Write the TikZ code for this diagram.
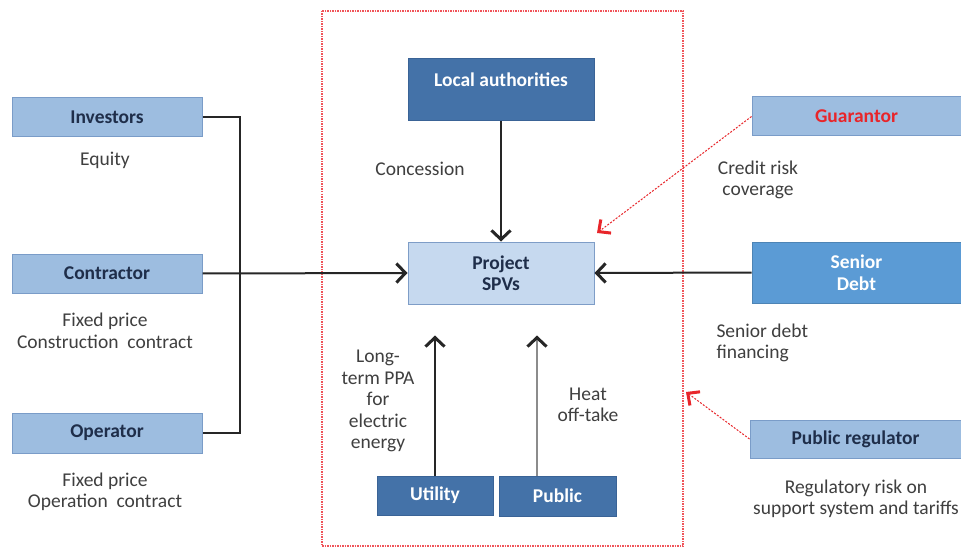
\documentclass[tikz,border=0pt]{standalone}
\usepackage{fontspec}
\setmainfont{Carlito}
\usetikzlibrary{arrows.meta,calc}
\definecolor{paleblue}{HTML}{C6D9EF}
\definecolor{paleedge}{HTML}{7E9DC7}
\definecolor{midblue}{HTML}{9DBDE0}
\definecolor{midedge}{HTML}{7A9CC8}
\definecolor{deepblue}{HTML}{4472A8}
\definecolor{deepedge}{HTML}{3A6396}
\definecolor{brightblue}{HTML}{5B9BD5}
\definecolor{navytext}{HTML}{1F2E4A}
\definecolor{labelgray}{HTML}{3F3F3F}
\definecolor{riskred}{HTML}{E8252A}
\definecolor{framered}{HTML}{F0545A}
\tikzset{
  basebox/.style={rectangle, inner sep=0pt, align=center, font=\fontsize{19.5}{21.5}\selectfont\bfseries},
  lightbox/.style={basebox, fill=midblue, draw=midedge, line width=1pt, text=navytext},
  palebox/.style={basebox, fill=paleblue, draw=paleedge, line width=1pt, text=navytext},
  darkbox/.style={basebox, fill=deepblue, draw=deepedge, line width=1pt, text=white},
  brightbox/.style={basebox, fill=brightblue, draw=brightblue!85!black, line width=1pt, text=white},
  note/.style={align=center, text=labelgray, font=\fontsize{19.5}{21.5}\selectfont},
  flow/.style={draw=black!85, line width=2pt, -{Straight Barb[length=9pt,width=19pt,line width=3pt]}},
  bus/.style={draw=black!85, line width=2pt},
  riskflow/.style={draw=riskred, line width=1pt, dash pattern=on 2pt off 1.5pt,
    -{Straight Barb[length=9pt,width=17pt,line width=3pt,color=riskred]}},
  scopeframe/.style={draw=framered, line width=1.2pt, dash pattern=on 1.5pt off 1pt}
}
\begin{document}
\begin{tikzpicture}[x=1pt,y=-1pt]
\useasboundingbox (0,0) rectangle (961,548);
\fill[white] (0,0) rectangle (961,548);

% project boundary
\draw[scopeframe] (322,11) rectangle (683,546);

% left-hand parties
\node[lightbox, minimum width=190pt, minimum height=39pt] (inv) at (107,117) {Investors};
\node[lightbox, minimum width=190pt, minimum height=39pt] (con) at (107,273.5) {Contractor};
\node[lightbox, minimum width=190pt, minimum height=40pt] (op) at (107,433) {Operator};

% centre
\node[darkbox, minimum width=186pt, minimum height=62pt] (loc) at (501,90) {Local authorities\\[0pt]~};
\node[palebox, minimum width=186pt, minimum height=62pt] (spv) at (501,273) {Project\\SPVs};
\node[darkbox, minimum width=116pt, minimum height=39pt] (util) at (435,495.5) {Utility};
\node[darkbox, minimum width=117pt, minimum height=40pt] (pub) at (557.5,496) {Public};

% right-hand parties
\node[lightbox, minimum width=209pt, minimum height=39pt, text=riskred] (gua) at (856.5,116.5) {Guarantor};
\node[brightbox, minimum width=209pt, minimum height=61pt] (sen) at (856.5,272.5) {Senior\\Debt};
\node[lightbox, minimum width=211pt, minimum height=38pt] (reg) at (855.5,439) {Public regulator};

% descriptions
\node[note] (equity) at (105,160) {Equity};
\node[note] (conlbl) at (105,331) {Fixed price\\Construction\ \ contract};
\node[note] (oplbl) at (105,492) {Fixed price\\Operation\ \ contract};
\node[note] (concl) at (420,169) {Concession};
\node[note] (ppa) at (378,401) {Long-\\term PPA\\for\\electric\\energy};
\node[note] (heat) at (588,405) {Heat\\off-take};
\node[note] (credit) at (758,180) {Credit risk\\coverage};
\node[note, align=left, anchor=west] (senlbl) at (713,343) {Senior debt\\financing};
\node[note] (reglbl) at (856,499) {Regulatory risk on\\support system and tariffs};

% connectors
\coordinate (busx) at (240,0);
\draw[bus] (inv.east) -- (inv.east -| busx) -- (op.east -| busx) -- (op.east);
\draw[flow] (con.east) -- (spv.west);
\draw[flow] (loc.south) -- (spv.north);
\draw[flow] (sen.west) -- (spv.east);
\draw[flow, shorten >=31pt] (util.north) -- (util.north |- spv.south);
\coordinate (pubfoot) at ($(pub.north)+(-20.5,0)$);
\draw[flow, draw=black!45, -{Straight Barb[length=9pt,width=19pt,line width=3pt,color=black!85]}, shorten >=31pt] (pubfoot) -- (pubfoot |- spv.south);

% risk cover
\coordinate (guatip) at (597,233);
\coordinate (regtip) at (686,392);
\draw[riskflow] (gua.west) -- (guatip);
\draw[riskflow] (reg.west) -- (regtip);
\end{tikzpicture}
\end{document}
